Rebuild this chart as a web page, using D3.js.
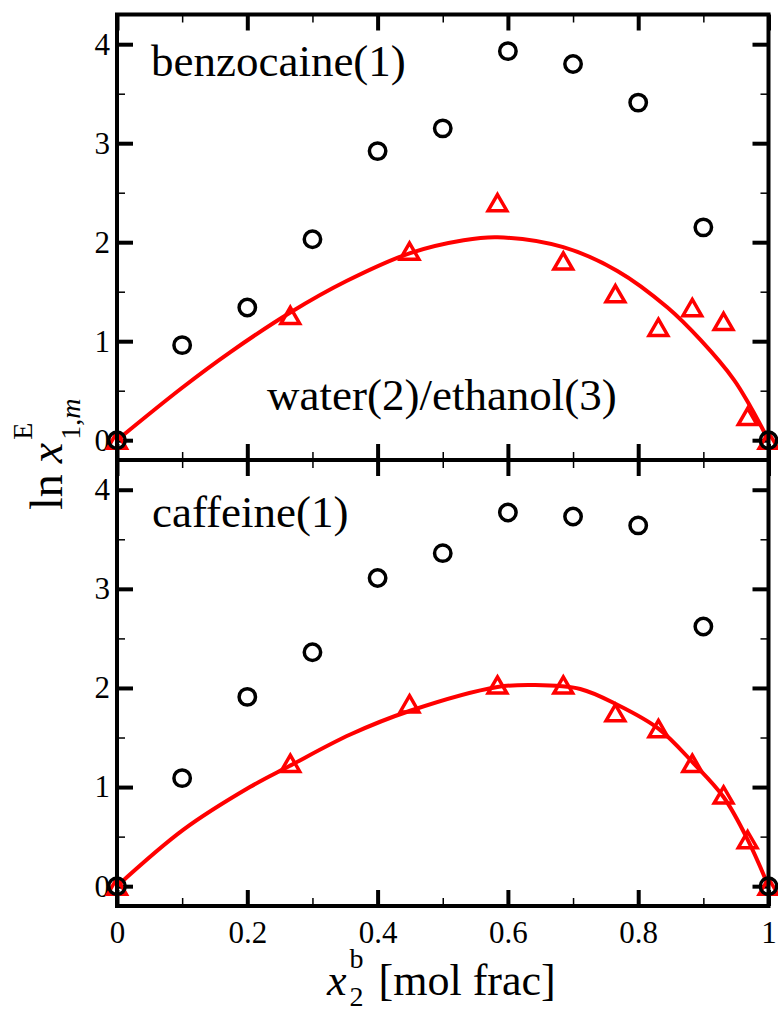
<!DOCTYPE html>
<html lang="en">
<head>
    <meta charset="UTF-8">
    <title>ln x1m E vs x2b</title>
    <script src="https://d3js.org/d3.v7.min.js"></script>
    <style>
        body { margin: 0; background: #fff; }
        text { font-family: "Liberation Serif", "Times New Roman", serif; fill: #000; }
    </style>
</head>
<body>
    <svg></svg>
    <script>
        const width = 778;
        const height = 1013;

        // measured points (open circles)
        const xCircle = [0, 0.1, 0.2, 0.3, 0.4, 0.5, 0.6, 0.7, 0.8, 0.9, 1];
        const benzoCircle = [0, 0.96, 1.34, 2.03, 2.92, 3.15, 3.93, 3.80, 3.41, 2.15, 0];
        const caffCircle = [0, 1.09, 1.91, 2.36, 3.11, 3.36, 3.77, 3.73, 3.64, 2.62, 0];

        // measured points (triangles)
        const xTri = [0, 0.266, 0.449, 0.584, 0.685, 0.765, 0.831, 0.883, 0.931, 0.968, 1];
        const benzoTri = [0, 1.26, 1.91, 2.40, 1.81, 1.48, 1.14, 1.34, 1.20, 0.24, 0];
        const caffTri = [0, 1.24, 1.84, 2.03, 2.03, 1.75, 1.59, 1.24, 0.92, 0.47, 0];

        // model curves
        const benzoCurveX = [0, 0.1, 0.174, 0.266, 0.353, 0.45, 0.532, 0.584, 0.685, 0.768, 0.845, 0.896, 0.947, 0.973, 1];
        const benzoCurveY = [0, 0.53, 0.89, 1.29, 1.61, 1.89, 2.02, 2.05, 1.95, 1.71, 1.34, 1.01, 0.61, 0.33, 0];
        const caffCurveX = [0, 0.102, 0.204, 0.264, 0.358, 0.45, 0.584, 0.64, 0.711, 0.768, 0.831, 0.885, 0.931, 0.968, 1];
        const caffCurveY = [0, 0.57, 1.0, 1.21, 1.53, 1.77, 2.01, 2.03, 1.99, 1.83, 1.59, 1.24, 0.9, 0.47, 0];

        const xTicks = [0, 0.2, 0.4, 0.6, 0.8, 1];
        const xTickLabels = ["0", "0.2", "0.4", "0.6", "0.8", "1"];
        const xMinor = [0.1, 0.3, 0.5, 0.7, 0.9];
        const yTicks = [0, 1, 2, 3, 4];
        const yMinor = [0.5, 1.5, 2.5, 3.5];

        const svg = d3.select("svg")
            .attr("width", width)
            .attr("height", height);

        const x0 = 117, x1 = 768.5;
        const top0 = 14.5, mid = 460, bot = 906;

        const x = d3.scaleLinear().domain([0, 1]).range([x0, x1]);
        const yTop = d3.scaleLinear().domain([-0.2, 4.3]).range([mid, top0]);
        const yBot = d3.scaleLinear().domain([-0.2, 4.3]).range([bot, mid]);

        // triangle centred on its bounding box
        const triangle = {
            draw(ctx, size) {
                const hw = Math.sqrt(size) * 0.82, hh = Math.sqrt(size) * 0.71;
                ctx.moveTo(0, -hh);
                ctx.lineTo(hw, hh);
                ctx.lineTo(-hw, hh);
                ctx.closePath();
            }
        };

        function styleAxis(g, w) {
            g.select(".domain").remove();
            g.selectAll(".tick line").attr("stroke", "#000").attr("stroke-width", w);
            g.selectAll(".tick text")
                .style("font-family", "'Liberation Serif', 'Times New Roman', serif")
                .attr("font-size", 31)
                .attr("fill", "#000");
        }

        function panel(y, yt, yb, circ, tri, cx, cy, xLabels) {
            // left axis
            svg.append("g").attr("transform", `translate(${x0},0)`)
                .call(d3.axisLeft(y).tickValues(yTicks).tickSize(-16).tickPadding(7).tickFormat(d3.format("d")))
                .call(g => styleAxis(g, 4));
            svg.append("g").attr("transform", `translate(${x0},0)`)
                .call(d3.axisLeft(y).tickValues(yMinor).tickSize(-8).tickFormat(""))
                .call(g => styleAxis(g, 1.5));
            // right axis
            svg.append("g").attr("transform", `translate(${x1},0)`)
                .call(d3.axisRight(y).tickValues(yTicks).tickSize(-16).tickFormat(""))
                .call(g => styleAxis(g, 4));
            svg.append("g").attr("transform", `translate(${x1},0)`)
                .call(d3.axisRight(y).tickValues(yMinor).tickSize(-8).tickFormat(""))
                .call(g => styleAxis(g, 1.5));
            // top edge, ticks pointing down
            svg.append("g").attr("transform", `translate(0,${yt})`)
                .call(d3.axisTop(x).tickValues(xTicks).tickSize(-16).tickFormat(""))
                .call(g => styleAxis(g, 4));
            svg.append("g").attr("transform", `translate(0,${yt})`)
                .call(d3.axisTop(x).tickValues(xMinor).tickSize(-8).tickFormat(""))
                .call(g => styleAxis(g, 1.5));
            // bottom edge, ticks pointing up
            svg.append("g").attr("transform", `translate(0,${yb})`)
                .call(d3.axisBottom(x).tickValues(xTicks).tickSize(-16).tickPadding(15)
                    .tickFormat((d, i) => xLabels ? xTickLabels[i] : ""))
                .call(g => styleAxis(g, 4));
            svg.append("g").attr("transform", `translate(0,${yb})`)
                .call(d3.axisBottom(x).tickValues(xMinor).tickSize(-8).tickFormat(""))
                .call(g => styleAxis(g, 1.5));

            const line = d3.line()
                .x((d, i) => x(cx[i]))
                .y(d => y(d))
                .curve(d3.curveCatmullRom.alpha(0.5));
            svg.append("path")
                .datum(cy)
                .attr("d", line)
                .attr("fill", "none")
                .attr("stroke", "#ff0000")
                .attr("stroke-width", 4);

            svg.append("g").selectAll("path")
                .data(tri)
                .join("path")
                .attr("d", d3.symbol(triangle, 130))
                .attr("transform", (d, i) => `translate(${x(xTri[i])},${y(d)})`)
                .attr("fill", "none")
                .attr("stroke", "#ff0000")
                .attr("stroke-width", 3.5);

            svg.append("g").selectAll("circle")
                .data(circ)
                .join("circle")
                .attr("cx", (d, i) => x(xCircle[i]))
                .attr("cy", d => y(d))
                .attr("r", 8.2)
                .attr("fill", "none")
                .attr("stroke", "#000")
                .attr("stroke-width", 3.5);
        }

        panel(yTop, top0, mid, benzoCircle, benzoTri, benzoCurveX, benzoCurveY, false);
        panel(yBot, mid, bot, caffCircle, caffTri, caffCurveX, caffCurveY, true);

        // frame
        svg.append("rect")
            .attr("x", x0).attr("y", top0)
            .attr("width", x1 - x0).attr("height", bot - top0)
            .attr("fill", "none").attr("stroke", "#000").attr("stroke-width", 4);
        svg.append("line")
            .attr("x1", x0).attr("x2", x1).attr("y1", mid).attr("y2", mid)
            .attr("stroke", "#000").attr("stroke-width", 4);

        // panel labels
        svg.append("text").attr("x", 151).attr("y", 76).attr("font-size", 45).text("benzocaine(1)");
        svg.append("text").attr("x", 267).attr("y", 410).attr("font-size", 45).text("water(2)/ethanol(3)");
        svg.append("text").attr("x", 152).attr("y", 527).attr("font-size", 45).text("caffeine(1)");

        // y label
        const yl = svg.append("text")
            .attr("transform", "translate(62,510) rotate(-90)")
            .attr("font-size", 46);
        yl.append("tspan").text("ln");
        yl.append("tspan").attr("dx", 11).attr("font-style", "italic").text("x");
        yl.append("tspan").attr("dx", 3).attr("dy", -30).attr("font-size", 28).text("E");
        yl.append("tspan").attr("dx", -17).attr("dy", 48).attr("font-size", 28).text("1,");
        yl.append("tspan").attr("font-size", 28).attr("font-style", "italic").text("m");

        // x label
        const xl = svg.append("text")
            .attr("x", 327).attr("y", 995)
            .attr("font-size", 44);
        xl.append("tspan").attr("font-style", "italic").text("x");
        xl.append("tspan").attr("dx", 3).attr("dy", 11).attr("font-size", 28).text("2");
        xl.append("tspan").attr("dx", -14).attr("dy", -38).attr("font-size", 28).text("b");
        xl.append("tspan").attr("dx", 15).attr("dy", 27).text("[mol frac]");
    </script>
</body>
</html>
